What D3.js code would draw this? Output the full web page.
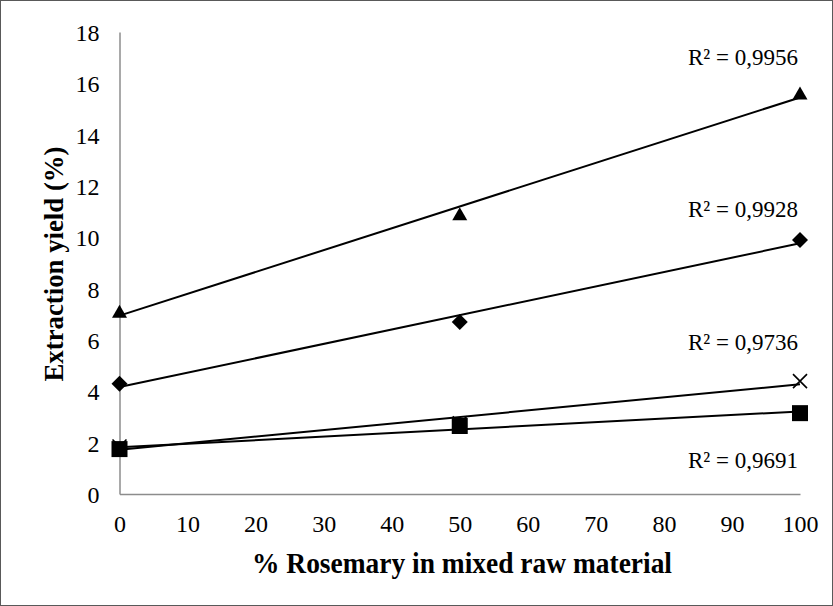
<!DOCTYPE html>
<html>
<head>
<meta charset="utf-8">
<script src="https://cdn.jsdelivr.net/npm/d3@7"></script>
<style>
  html, body { margin: 0; padding: 0; background: #fff; }
  svg { display: block; }
  text { font-family: "Liberation Serif", "Times New Roman", serif; fill: #000; }
</style>
</head>
<body>
<svg id="chart" width="833" height="606"></svg>
<script>
// Rosemary share in the mixed raw material (%)
const rosemaryShare = [0, 50, 100];

// Extraction yield (%) for each series
const yieldTriangle = [7.1, 10.9, 15.6];
const yieldDiamond  = [4.3, 6.7, 9.9];
const yieldCross    = [1.85, 2.75, 4.4];
const yieldSquare   = [1.75, 2.65, 3.15];

// Coefficient of determination shown next to each trend line
const r2Labels = ["R² = 0,9956", "R² = 0,9928", "R² = 0,9736", "R² = 0,9691"];

const xTicks = [0, 10, 20, 30, 40, 50, 60, 70, 80, 90, 100];
const yTicks = [0, 2, 4, 6, 8, 10, 12, 14, 16, 18];

const series = [
  { values: yieldTriangle, marker: "triangle", label: r2Labels[0], lx: 743, ly: 57 },
  { values: yieldDiamond,  marker: "diamond",  label: r2Labels[1], lx: 743, ly: 209 },
  { values: yieldCross,    marker: "cross",    label: r2Labels[2], lx: 743, ly: 342 },
  { values: yieldSquare,   marker: "square",   label: r2Labels[3], lx: 743, ly: 460 }
];

const svg = d3.select("#chart");

// outer frame
svg.append("rect")
  .attr("x", 0.5).attr("y", 0.5)
  .attr("width", 832).attr("height", 605)
  .attr("fill", "#fff").attr("stroke", "#595959").attr("stroke-width", 1);

const x = d3.scaleLinear().domain([0, 100]).range([119.5, 800]);
const y = d3.scaleLinear().domain([0, 18]).range([494, 32]);

// axes
const xAxis = svg.append("g").attr("transform", `translate(0,${y(0)})`)
  .call(d3.axisBottom(x).tickValues(xTicks).tickSize(0).tickPadding(21).tickFormat(d3.format("d")));
const yAxis = svg.append("g").attr("transform", `translate(${x(0)},0)`)
  .call(d3.axisLeft(y).tickValues(yTicks).tickSize(0).tickPadding(20).tickFormat(d3.format("d")));

[xAxis, yAxis].forEach(g => {
  g.select(".domain").attr("stroke", "#8c8c8c").attr("stroke-width", 1.5);
  g.selectAll("text")
    .style("font-family", "'Liberation Serif', serif")
    .style("font-size", "24px")
    .attr("fill", "#000");
});
xAxis.selectAll("text").attr("dy", "0.71em");
yAxis.selectAll("text").attr("dy", "0.36em");

// axis titles
svg.append("text")
  .attr("x", 462).attr("y", 573)
  .attr("text-anchor", "middle")
  .attr("textLength", 420).attr("lengthAdjust", "spacingAndGlyphs")
  .style("font-size", "29px").style("font-weight", "bold")
  .text("% Rosemary in mixed raw material");

svg.append("text")
  .attr("transform", `translate(63,264) rotate(-90)`)
  .attr("text-anchor", "middle")
  .attr("textLength", 235).attr("lengthAdjust", "spacingAndGlyphs")
  .style("font-size", "28px").style("font-weight", "bold")
  .text("Extraction yield (%)");

// least-squares trend line
function linearFit(xs, ys) {
  const n = xs.length;
  const mx = d3.mean(xs), my = d3.mean(ys);
  let sxy = 0, sxx = 0;
  for (let i = 0; i < n; i++) { sxy += (xs[i] - mx) * (ys[i] - my); sxx += (xs[i] - mx) ** 2; }
  const slope = sxy / sxx;
  return { slope, intercept: my - slope * mx };
}

const xDom = x.domain();
series.forEach(s => {
  const fit = linearFit(rosemaryShare, s.values);
  svg.append("line")
    .attr("x1", x(xDom[0])).attr("y1", y(fit.intercept + fit.slope * xDom[0]))
    .attr("x2", x(xDom[1])).attr("y2", y(fit.intercept + fit.slope * xDom[1]))
    .attr("stroke", "#000").attr("stroke-width", 2);
});

// marker outlines centred on (0,0)
const markerPath = {
  triangle: "M0,-7L7.5,6L-7.5,6Z",
  diamond: "M0,-8L8,0L0,8L-8,0Z",
  square: "M-8,-8H8V8H-8Z",
  cross: "M-7,-7L7,7M-7,7L7,-7"
};

series.forEach(s => {
  const g = svg.append("g");
  rosemaryShare.forEach((v, i) => {
    const p = g.append("path")
      .attr("transform", `translate(${x(v)},${y(s.values[i])})`)
      .attr("d", markerPath[s.marker]);
    if (s.marker === "cross") p.attr("stroke", "#000").attr("stroke-width", 1.6).attr("fill", "none");
    else p.attr("fill", "#000");
  });
});

// R² labels
series.forEach(s => {
  svg.append("text")
    .attr("x", s.lx).attr("y", s.ly)
    .attr("dy", "0.35em")
    .attr("text-anchor", "middle")
    .style("font-size", "23px")
    .text(s.label);
});
</script>
</body>
</html>
